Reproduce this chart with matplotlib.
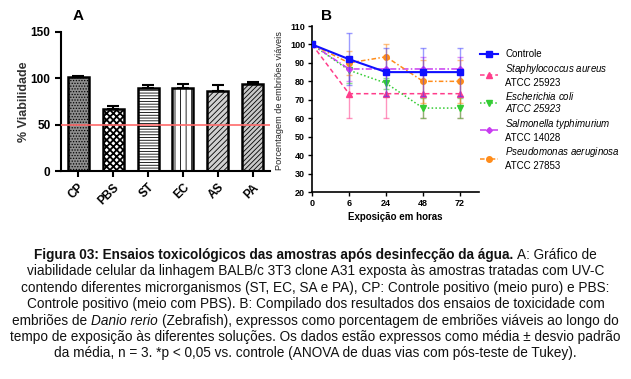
import matplotlib
matplotlib.use("Agg")
import matplotlib.pyplot as plt
import numpy as np

plt.rcParams['font.family'] = ['Liberation Sans', 'DejaVu Sans']
plt.rcParams['mathtext.fontset'] = 'custom'
plt.rcParams['mathtext.it'] = 'Liberation Sans:italic'
plt.rcParams['mathtext.rm'] = 'Liberation Sans'
plt.rcParams['mathtext.bf'] = 'Liberation Sans:bold'

# ---------------- Data ----------------
bar_labels = ["CP", "PBS", "ST", "EC", "AS", "PA"]
bar_values = [101, 67, 90, 90, 86, 94]
bar_errors = [2, 3, 2.5, 3.5, 6.5, 2.5]
bar_hatches = ["......", "xxxxx", "------", "|||", "//////", "///////"]
bar_hatch_lw = [0.6, 1.3, 0.6, 0.6, 0.6, 0.6]
bar_faces = ["#8f8f8f", "white", "white", "white", "#d0d0d0", "#c8c8c8"]
threshold = 50

time_labels = ["0", "6", "24", "48", "72"]
controle = [100, 92, 85, 85, 85]
controle_err = [0, 14, 13, 13, 13]
s_aureus = [100, 73.3, 73.3, 73.3, 73.3]
s_aureus_err = [0, 13.3, 13.3, 13.3, 13.3]
e_coli = [100, 86, 79, 65.5, 65.5]
e_coli_err = [0, 7, 3, 5.5, 5.5]
salmonella = [100, 86.7, 86.7, 86.7, 86.7]
salmonella_err = [0, 6.7, 6.7, 6.7, 6.7]
pseudomonas = [100, 90, 93.3, 80, 80]
pseudomonas_err = [0, 6.7, 6.7, 11.5, 11.5]

W, H = 631, 379
fig = plt.figure(figsize=(W / 100, H / 100), dpi=100)

def fx(px):
    return px / W

def fy(py):
    return 1 - py / H

# ---------------- Panel A ----------------
axA = fig.add_axes([fx(61), fy(171), fx(270 - 61), fy(32) - fy(171)])
xa = np.arange(len(bar_labels))
for i in range(len(bar_labels)):
    with plt.rc_context({'hatch.linewidth': bar_hatch_lw[i]}):
        axA.bar(xa[i], bar_values[i], width=0.6, color=bar_faces[i], edgecolor="black",
                linewidth=1.8, hatch=bar_hatches[i], zorder=2)
axA.errorbar(xa, bar_values, yerr=[np.zeros(len(bar_errors)), bar_errors], fmt="none",
             ecolor="black", elinewidth=1.5, capsize=4, capthick=1.5, zorder=3)
axA.axhline(threshold, color="#ff6b6b", lw=1.2, zorder=4)
axA.set_xlim(-0.486, 5.486)
axA.set_ylim(0, 150)
axA.set_yticks([0, 50, 100, 150])
axA.set_xticks(xa)
axA.set_xticklabels(bar_labels, rotation=45, ha="right", rotation_mode="anchor",
                    fontsize=8.5, fontweight="bold")
for lbl in axA.get_yticklabels():
    lbl.set_fontsize(8.5)
    lbl.set_fontweight("bold")
axA.spines["top"].set_visible(False)
axA.spines["right"].set_visible(False)
axA.spines["left"].set_linewidth(1.5)
axA.spines["bottom"].set_linewidth(1.5)
axA.tick_params(width=1.5, length=4)
axA.set_ylabel("% Viabilidade", fontsize=9, fontweight="bold", color="#333333")
axA.yaxis.set_label_coords(fx(30 - 61) / fx(270 - 61), 0.5)
fig.text(fx(78), fy(16), "A", fontsize=11, fontweight="bold", ha="center", va="center")

# ---------------- Panel B ----------------
axB = fig.add_axes([fx(312), fy(192), fx(479 - 312), fy(26) - fy(192)])
xb = np.arange(len(time_labels))
series = [
    (s_aureus, s_aureus_err, "#ff3d8b", (0, (3, 2)), "^", r"$\mathit{Staphylococcus\ aureus}$" + "\nATCC 25923"),
    (e_coli, e_coli_err, "#33cc33", (0, (1, 1.5)), "v", r"$\mathit{Escherichia\ coli}$" + "\nATCC 25923"),
    (salmonella, salmonella_err, "#c83cf0", (0, (4, 1.5, 1, 1.5)), "D", r"$\mathit{Salmonella\ typhimurium}$" + "\nATCC 14028"),
    (pseudomonas, pseudomonas_err, "#ff8c1a", (0, (3, 1.5, 1, 1.5)), "o", r"$\mathit{Pseudomonas\ aeruginosa}$" + "\nATCC 27853"),
]
handles = []
for vals, errs, col, ls, mk, lab in series:
    axB.errorbar(xb, vals, yerr=errs, fmt="none", ecolor=col, elinewidth=1.0,
                 capsize=2, capthick=1.0, alpha=0.55, zorder=2)
    h, = axB.plot(xb, vals, color=col, ls=ls, lw=1.1, marker=mk,
                  markersize=4 if mk != "D" else 3, zorder=3, label=lab)
    handles.append(h)
axB.errorbar(xb, controle, yerr=controle_err, fmt="none", ecolor="#3b3bff",
             elinewidth=1.0, capsize=2, capthick=1.0, alpha=0.5, zorder=4)
hc, = axB.plot(xb, controle, color="#1010ff", lw=1.5, marker="s", markersize=5,
               zorder=5, label="Controle")
handles = [hc] + handles

axB.set_xlim(0, 4.51)
axB.set_ylim(20, 110)
axB.set_yticks(np.arange(20, 111, 10))
axB.set_xticks(xb)
axB.set_xticklabels(time_labels)
for lbl in axB.get_xticklabels() + axB.get_yticklabels():
    lbl.set_fontsize(6.5)
    lbl.set_fontweight("bold")
axB.spines["top"].set_visible(False)
axB.spines["right"].set_visible(False)
axB.spines["left"].set_linewidth(1.2)
axB.spines["bottom"].set_linewidth(1.2)
axB.tick_params(width=1.0, length=3, pad=2)
axB.set_xlabel("Exposição em horas", fontsize=7, fontweight="bold", labelpad=3)
axB.set_ylabel("Porcentagem de embriões viáveis", fontsize=6.6, color="#222222")
axB.yaxis.set_label_coords(fx(284 - 312) / fx(479 - 312), 0.55)
fig.text(fx(326), fy(16), "B", fontsize=11, fontweight="bold", ha="center", va="center")

leg = fig.legend(handles=handles, loc="upper left", bbox_to_anchor=(fx(480), fy(49)),
                 frameon=False, fontsize=7, handlelength=1.8, handletextpad=0.8,
                 labelspacing=0.3, borderaxespad=0, borderpad=0)
leg.get_texts()[2].set_fontstyle("italic")

# ---------------- Caption ----------------
caption_lines = [
    [("Figura 03: Ensaios toxicológicos das amostras após desinfecção da água.", "bold"), ("A: Gráfico de", "normal")],
    [("viabilidade celular da linhagem BALB/c 3T3 clone A31 exposta às amostras tratadas com UV-C", "normal")],
    [("contendo diferentes microrganismos (ST, EC, SA e PA), CP: Controle positivo (meio puro) e PBS:", "normal")],
    [("Controle positivo (meio com PBS). B: Compilado dos resultados dos ensaios de toxicidade com", "normal")],
    [("embriões de", "normal"), ("Danio rerio", "italic"), ("(Zebrafish), expressos como porcentagem de embriões viáveis ao longo do", "normal")],
    [("tempo de exposição às diferentes soluções. Os dados estão expressos como média ± desvio padrão", "normal")],
    [("da média, n = 3. *p < 0,05 vs. controle (ANOVA de duas vias com pós-teste de Tukey).", "normal")],
]
line_y = [255, 271, 288, 304, 321, 337, 353]
cap_font = ['Liberation Sans', 'DejaVu Sans']
cap_size = 9.8

renderer = fig.canvas.get_renderer()

def make_text(style):
    kw = dict(fontsize=cap_size, family=cap_font, va="center", ha="left", color="#111111")
    if style == "bold":
        kw["fontweight"] = "bold"
    elif style == "italic":
        kw["fontstyle"] = "italic"
    return kw

t1 = fig.text(0, 0, "x x", **make_text("normal"))
t2 = fig.text(0, 0, "xx", **make_text("normal"))
space_w = t1.get_window_extent(renderer).width - t2.get_window_extent(renderer).width
t1.remove(); t2.remove()

for segs, yy in zip(caption_lines, line_y):
    texts = [fig.text(0, fy(yy), s, **make_text(st)) for s, st in segs]
    widths = [t.get_window_extent(renderer).width for t in texts]
    total = sum(widths) + space_w * (len(texts) - 1)
    x = W / 2 - total / 2
    for t, w in zip(texts, widths):
        t.set_x(x / W)
        x += w + space_w

fig.savefig("out.png", dpi=100)
